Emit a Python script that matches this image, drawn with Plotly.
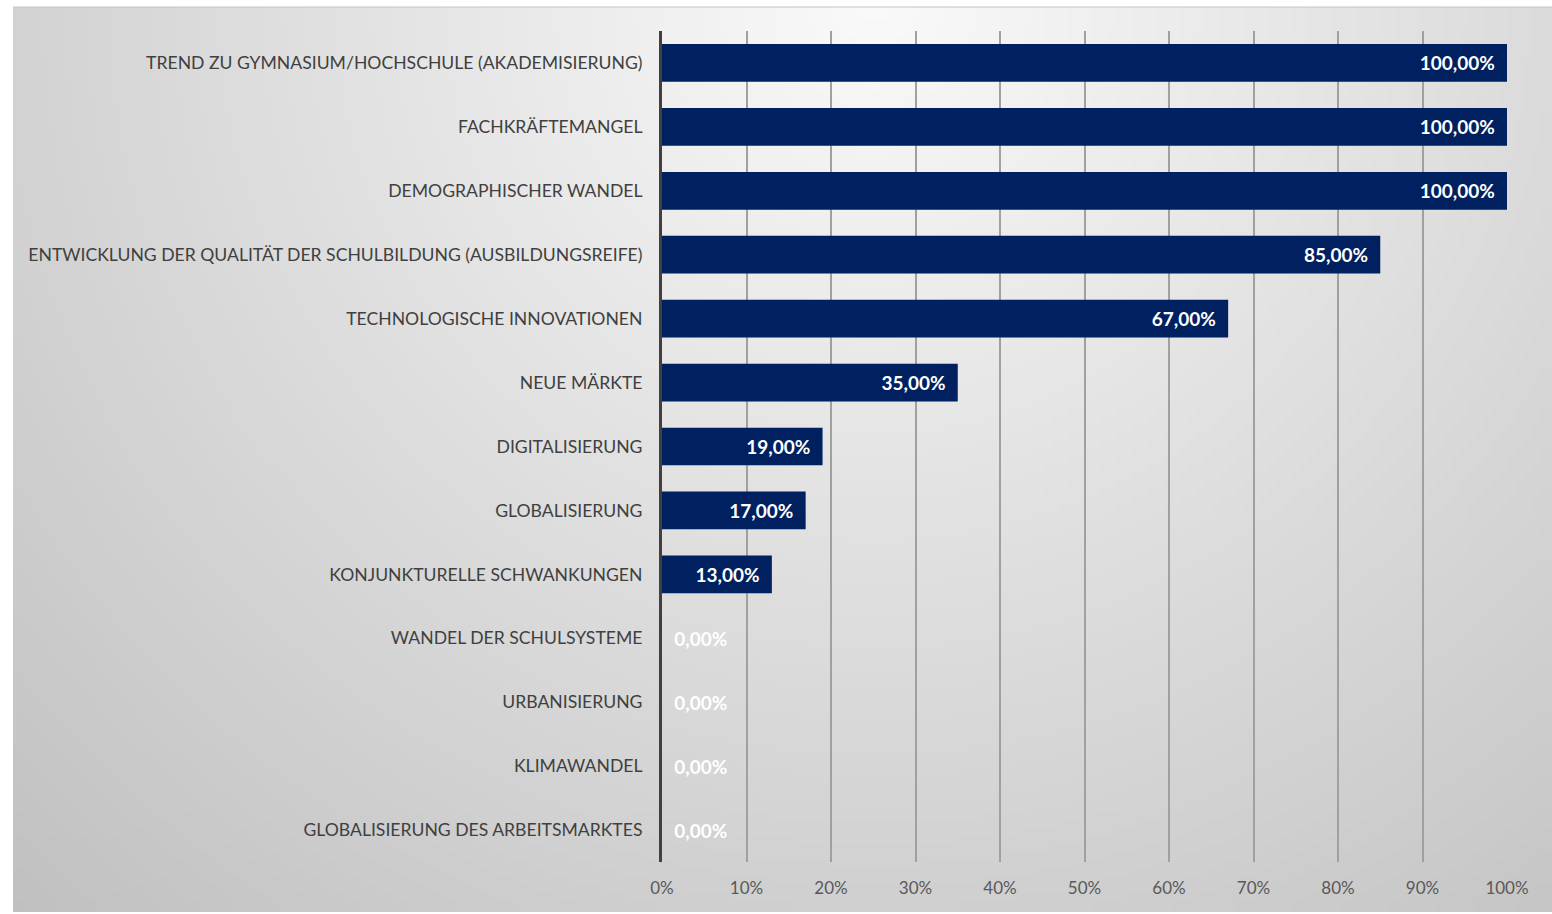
import base64
import struct
import zlib

import numpy as np
import plotly.graph_objects as go

# Survey results: share of respondents naming each factor
categories = [
    "TREND ZU GYMNASIUM/HOCHSCHULE (AKADEMISIERUNG)",
    "FACHKRÄFTEMANGEL",
    "DEMOGRAPHISCHER WANDEL",
    "ENTWICKLUNG DER QUALITÄT DER SCHULBILDUNG (AUSBILDUNGSREIFE)",
    "TECHNOLOGISCHE INNOVATIONEN",
    "NEUE MÄRKTE",
    "DIGITALISIERUNG",
    "GLOBALISIERUNG",
    "KONJUNKTURELLE SCHWANKUNGEN",
    "WANDEL DER SCHULSYSTEME",
    "URBANISIERUNG",
    "KLIMAWANDEL",
    "GLOBALISIERUNG DES ARBEITSMARKTES",
]
values = [100, 100, 100, 85, 67, 35, 19, 17, 13, 0, 0, 0, 0]
x_tickvals = [0, 10, 20, 30, 40, 50, 60, 70, 80, 90, 100]
x_ticktext = ["0%", "10%", "20%", "30%", "40%", "50%", "60%", "70%", "80%", "90%", "100%"]

NAVY = "#002060"
NBSP = "\u00a0"


def fmt_pct(v):
    return f"{v:.2f}".replace(".", ",") + "%"


# Labels sit inside the bar end; empty bars get their label just past the axis
bar_text = []
text_pos = []
for v in values:
    if v > 0:
        bar_text.append(fmt_pct(v) + NBSP * 2)
        text_pos.append("inside")
    else:
        bar_text.append(NBSP * 2 + fmt_pct(v))
        text_pos.append("outside")


def gradient_png(w=192, h=112):
    """Soft radial grey gradient used as the chart-area backdrop."""
    xs = (np.arange(w) + 0.5) / w
    ys = (np.arange(h) + 0.5) / h
    X, Y = np.meshgrid(xs, ys)
    d = np.sqrt(((X - 0.56) / 0.6) ** 2 + ((Y - 0.0) / 1.0) ** 2)
    v = np.clip(250 - 42 * d, 185, 250).astype(np.uint8)
    raw = b"".join(b"\x00" + v[r].tobytes() for r in range(h))

    def chunk(tag, data):
        c = tag + data
        return struct.pack(">I", len(data)) + c + struct.pack(">I", zlib.crc32(c) & 0xFFFFFFFF)

    png = b"\x89PNG\r\n\x1a\n"
    png += chunk(b"IHDR", struct.pack(">IIBBBBB", w, h, 8, 0, 0, 0, 0))
    png += chunk(b"IDAT", zlib.compress(raw, 9))
    png += chunk(b"IEND", b"")
    return "data:image/png;base64," + base64.b64encode(png).decode()


W, H = 1552, 914
ML, MR, MT, MB = 662, 45, 31, 52
pw = W - ML - MR
ph = H - MT - MB


def px_to_paper_x(px):
    return (px - ML) / pw


def px_to_paper_y(py):
    return 1 - (py - MT) / ph


fig = go.Figure(
    go.Bar(
        x=values,
        y=categories,
        orientation="h",
        marker=dict(color=NAVY, line=dict(width=0)),
        text=bar_text,
        textposition=text_pos,
        insidetextanchor="end",
        textfont=dict(family="Lato", size=19, color="white", weight="bold"),
        outsidetextfont=dict(family="Lato", size=19, color="white", weight="bold"),
        cliponaxis=False,
        hoverinfo="skip",
    )
)

box_x0, box_x1 = px_to_paper_x(13), px_to_paper_x(1552)
box_y1, box_y0 = px_to_paper_y(7), px_to_paper_y(912)

fig.update_layout(
    width=W,
    height=H,
    margin=dict(l=ML, r=MR, t=MT, b=MB, pad=0),
    paper_bgcolor="white",
    plot_bgcolor="rgba(0,0,0,0)",
    bargap=0.41,
    showlegend=False,
    font=dict(family="Lato", color="#404040"),
    images=[
        dict(
            source=gradient_png(),
            xref="paper",
            yref="paper",
            x=box_x0,
            y=box_y1,
            sizex=box_x1 - box_x0,
            sizey=box_y1 - box_y0,
            xanchor="left",
            yanchor="top",
            sizing="stretch",
            layer="below",
        )
    ],
    shapes=[
        dict(
            type="line",
            xref="paper",
            yref="paper",
            x0=box_x0,
            x1=box_x1,
            y0=box_y1,
            y1=box_y1,
            line=dict(color="#c4c4c4", width=1),
            layer="below",
        )
    ],
    xaxis=dict(
        range=[0, 100],
        tickvals=x_tickvals,
        ticktext=x_ticktext,
        showgrid=True,
        gridcolor="#a0a0a0",
        gridwidth=2,
        zeroline=False,
        showline=False,
        ticks="",
        ticklabelstandoff=14,
        tickfont=dict(family="Lato", size=17, color="#595959"),
        fixedrange=True,
    ),
    yaxis=dict(
        categoryorder="array",
        categoryarray=categories,
        autorange="reversed",
        showgrid=False,
        zeroline=False,
        showline=True,
        linecolor="#404040",
        linewidth=3,
        ticks="",
        ticklabelstandoff=13,
        tickfont=dict(family="Lato", size=17.6, color="#404040"),
        fixedrange=True,
    ),
)

fig.write_html("out.html")
